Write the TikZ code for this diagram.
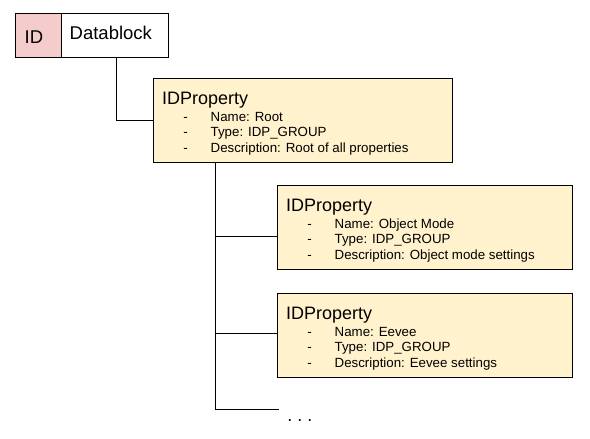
\documentclass[tikz,border=0pt]{standalone}
\usepackage{fontspec}
\setmainfont{Liberation Sans}
\definecolor{idfill}{HTML}{F4CCCC}
\definecolor{propfill}{HTML}{FFF2CC}
\begin{document}
\begin{tikzpicture}[x=1pt,y=-1pt,
  box/.style={draw=black, line width=1pt, inner sep=0pt, anchor=north west},
  propbox/.style={box, fill=propfill, minimum height=84pt},
  ttl/.style={anchor=base west, inner sep=0pt, font=\fontsize{18}{20}\selectfont},
  item/.style={anchor=base west, inner sep=0pt, font=\fontsize{13.3}{15}\selectfont},
  dashm/.style={anchor=base, inner sep=0pt, font=\fontsize{13.3}{15}\selectfont},
  conn/.style={draw=black, line width=1pt}]
\useasboundingbox (0,0) rectangle (590,439);

% ID / Datablock
\node[box, fill=idfill, minimum width=46pt, minimum height=44pt] (id) at (15,13) {};
\node[box, fill=white, minimum width=107pt, minimum height=44pt] (db) at (61,13) {};
\node[anchor=base west, inner sep=0pt, font=\fontsize{18.5}{20}\selectfont] (idt) at (24.5,43) {ID};
\node[anchor=base west, inner sep=0pt, font=\fontsize{18.5}{20}\selectfont] (dbt) at (69.5,39.5) {Datablock};

% property boxes
\foreach \n/\l/\t/\w/\nm/\ds in {root/153/78/299/Root/Root of all properties,
  obj/277/185/295/Object Mode/Object mode settings,
  eev/277/293/295/Eevee/Eevee settings}{
  \node[propbox, minimum width=\w pt] (\n) at (\l,\t) {};
  \node[ttl] (\n-t) at (\l+9,\t+26.5) {IDProperty};
  \node[dashm] (\n-d1) at (\l+32.5,\t+43) {-};
  \node[dashm] (\n-d2) at (\l+32.5,\t+58.5) {-};
  \node[dashm] (\n-d3) at (\l+32.5,\t+74) {-};
  \node[item] (\n-i1) at (\l+57.5,\t+43) {Name: \nm};
  \node[item] (\n-i2) at (\l+57.5,\t+58.5) {Type: IDP\_GROUP};
  \node[item] (\n-i3) at (\l+57.5,\t+74) {Description: \ds};
}

% connectors
\draw[conn] ([xshift=1.5pt]db.south) |- (root.west);
\coordinate (t0) at (215,162);
\coordinate (b1) at (215,236);
\coordinate (b2) at (215,333);
\coordinate (b3) at (279,409);
\draw[conn] (t0) |- (b3);
\draw[conn] (b1) -- (b1 -| obj.west);
\draw[conn] (b2) -- (b2 -| eev.west);

\node[anchor=base, inner sep=0pt, font=\fontsize{18}{20}\selectfont] (dots) at (300,421) {.\ .\ .};
\end{tikzpicture}
\end{document}
